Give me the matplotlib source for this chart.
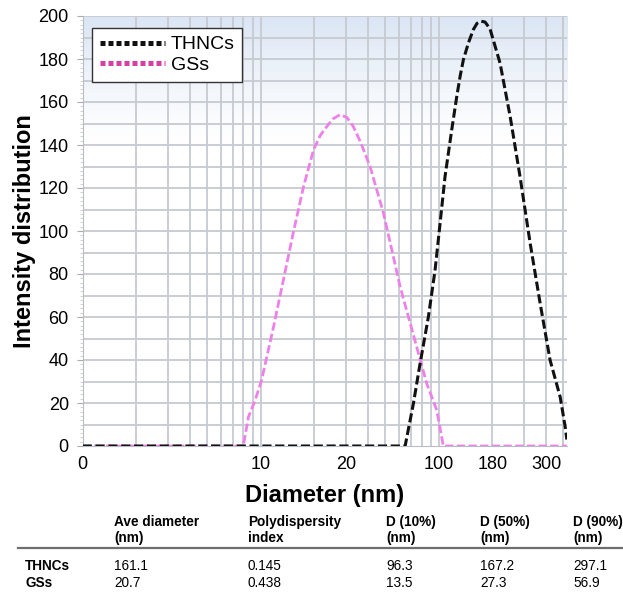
import numpy as np
import matplotlib.pyplot as plt
from matplotlib.lines import Line2D
from matplotlib.ticker import MultipleLocator

plt.rcParams['font.family'] = ['Liberation Sans', 'DejaVu Sans']

#%% data
thncs_d = [1, 64.7, 72, 78.5, 87.4, 95.3, 101.7, 108.4, 118.2, 126.2, 131.8, 137.5,
           146.7, 156.4, 164, 172, 182, 194, 221, 252, 286, 326, 371, 422, 481, 513, 524]
thncs_i = [0, 0, 19.7, 38.3, 60, 81.8, 103.6, 125.3, 147, 162.6, 172, 179.7,
           187.5, 193.7, 196.6, 197.6, 197.2, 194, 178, 153, 125.3, 94.3, 66.3,
           39.9, 22.7, 8.8, 3]

gss_d = [1, 7.98, 8.52, 9.29, 10.1, 11.8, 13.4, 15.2, 17.4, 19.8, 21.6, 23.5, 25.5,
         27.9, 30.5, 33.1, 36.5, 41.1, 48.9, 60.7, 75.2, 85.6, 97.5, 106, 524]
gss_i = [0, 0, 13.4, 21.2, 30.5, 55.4, 77.2, 98.9, 120.7, 137.8, 144.5, 148.6, 152.2,
         154.1, 152.8, 148.6, 141, 130, 108.3, 74, 46, 29, 16.6, 0, 0]

xtick_pos = [1, 10, 30, 100, 200, 400]
xtick_labels = ['0', '10', '20', '100', '180', '300']

col_headers = ['Ave diameter\n(nm)', 'Polydispersity\nindex',
               'D (10%)\n(nm)', 'D (50%)\n(nm)', 'D (90%)\n(nm)']
row_names = ['THNCs', 'GSs']
table_vals = [['161.1', '0.145', '96.3', '167.2', '297.1'],
              ['20.7', '0.438', '13.5', '27.3', '56.9']]

#%% figure
W, H = 623, 593
fig = plt.figure(figsize=(W / 100, H / 100), dpi=100)
ax = fig.add_axes([82.7 / W, 1 - 446 / H, (567 - 82.7) / W, (446 - 16) / H])

xmin, xmax = 1, 525
ax.set_xscale('log')
ax.set_xlim(xmin, xmax)
ax.set_ylim(0, 200)

# light blue fade at the top of the plot area
grad = np.ones((100, 1, 3))
top = np.array([0.86, 0.90, 0.955])
for k in range(100):
    f = k / 99
    t = max(0, (f - 0.70) / 0.30) ** 1.3
    grad[k, 0, :] = 1 - t * (1 - top)
ax.imshow(grad, extent=[0, 1, 0, 1], transform=ax.transAxes, aspect='auto',
          origin='lower', zorder=0)

# grid
gcol = '#c6cad1'
for dec in [1, 10, 100]:
    for m in range(1, 10):
        v = dec * m
        if xmin < v < xmax:
            ax.axvline(v, color=gcol, lw=1.3, zorder=1)
ax.axvline(500, color=gcol, lw=1.3, zorder=1)
for v in range(10, 201, 10):
    ax.axhline(v, color=gcol, lw=1.3, zorder=1)

ax.plot(gss_d, gss_i, color='#ee80ea', lw=2, linestyle=(0, (3, 1.2)), zorder=3)
ax.plot(thncs_d, thncs_i, color='#111111', lw=2.2, linestyle=(0, (3, 1.2)), zorder=4)

# ticks
ax.set_xticks(xtick_pos)
ax.set_xticklabels(xtick_labels)
ax.minorticks_off()
ax.tick_params(axis='x', length=0, pad=7, labelsize=13)
ax.set_yticks(range(0, 201, 20))
ax.yaxis.set_minor_locator(MultipleLocator(2))
ax.tick_params(axis='y', which='major', length=4, color='#aaaaaa', labelsize=13, pad=6)
ax.tick_params(axis='y', which='minor', length=2, color='#cccccc')

for s in ['top', 'right']:
    ax.spines[s].set_visible(False)
ax.spines['left'].set_color('#b8bcc4')
ax.spines['bottom'].set_color('#b8bcc4')

ax.set_xlabel('Diameter (nm)', fontsize=17, fontweight='bold', labelpad=8)
ax.set_ylabel('Intensity distribution', fontsize=17, fontweight='bold', labelpad=1.5)

# legend
handles = [Line2D([], [], color='#111111', lw=3.6, linestyle=(0, (1, 0.6)),
                  dash_capstyle='butt'),
           Line2D([], [], color='#d63ea6', lw=3.6, linestyle=(0, (1, 0.6)),
                  dash_capstyle='butt')]
leg = ax.legend(handles, row_names, loc='upper left', bbox_to_anchor=(0.019, 0.972),
                borderaxespad=0, fontsize=14, handlelength=3.35, handletextpad=0.3,
                labelspacing=0.15, borderpad=0.4, fancybox=False, framealpha=1)
leg.get_frame().set_edgecolor('#333333')
leg.get_frame().set_linewidth(1.0)

#%% table below
col_x = [114, 247.7, 386, 480, 573]
row_x = 25
for cx, txt in zip(col_x, col_headers):
    fig.text(cx / W, 1 - 515 / H, txt, fontsize=9.8, fontweight='bold',
             va='top', ha='left', linespacing=1.15)
fig.add_artist(Line2D([18 / W, 1], [1 - 548 / H] * 2, color='#6e6e6e', lw=1.6))
for ry, name, vals in zip([566, 583], row_names, table_vals):
    fig.text(row_x / W, 1 - ry / H, name, fontsize=9.8, fontweight='bold',
             va='center', ha='left')
    for cx, v in zip(col_x, vals):
        fig.text(cx / W, 1 - ry / H, v, fontsize=9.8, va='center', ha='left')

fig.savefig('out.png', dpi=100)
